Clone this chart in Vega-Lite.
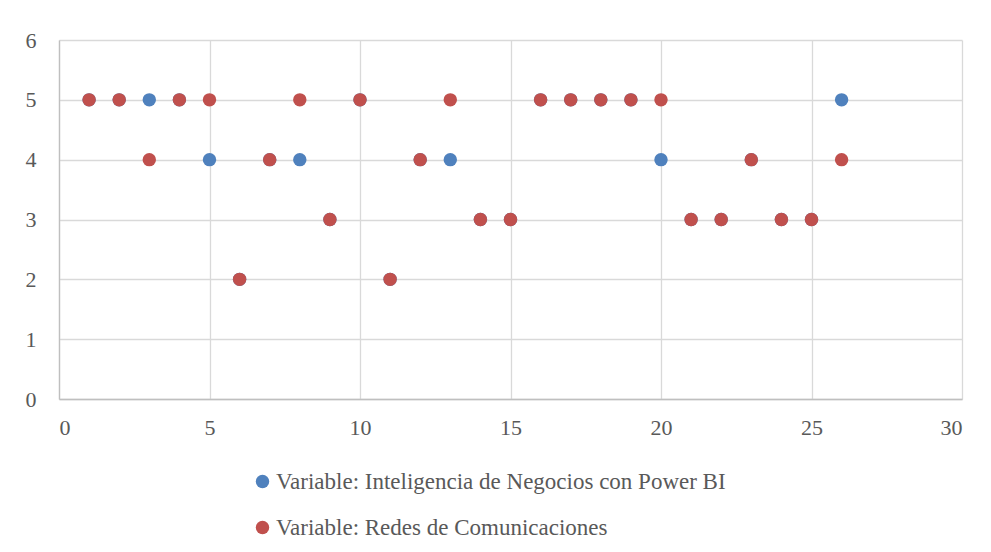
{
  "$schema": "https://vega.github.io/schema/vega-lite/v6.json",
  "width": 903,
  "height": 359,
  "autosize": "none",
  "padding": {"left": 59, "top": 40, "right": 29, "bottom": 153},
  "background": "white",
  "config": {
    "view": {"stroke": null},
    "font": "Liberation Serif"
  },
  "data": {
    "values": [
      {"x": 1, "y": 5, "serie": "Variable: Inteligencia de Negocios con Power BI"},
      {"x": 2, "y": 5, "serie": "Variable: Inteligencia de Negocios con Power BI"},
      {"x": 3, "y": 5, "serie": "Variable: Inteligencia de Negocios con Power BI"},
      {"x": 4, "y": 5, "serie": "Variable: Inteligencia de Negocios con Power BI"},
      {"x": 5, "y": 4, "serie": "Variable: Inteligencia de Negocios con Power BI"},
      {"x": 6, "y": 2, "serie": "Variable: Inteligencia de Negocios con Power BI"},
      {"x": 7, "y": 4, "serie": "Variable: Inteligencia de Negocios con Power BI"},
      {"x": 8, "y": 4, "serie": "Variable: Inteligencia de Negocios con Power BI"},
      {"x": 9, "y": 3, "serie": "Variable: Inteligencia de Negocios con Power BI"},
      {"x": 10, "y": 5, "serie": "Variable: Inteligencia de Negocios con Power BI"},
      {"x": 11, "y": 2, "serie": "Variable: Inteligencia de Negocios con Power BI"},
      {"x": 12, "y": 4, "serie": "Variable: Inteligencia de Negocios con Power BI"},
      {"x": 13, "y": 4, "serie": "Variable: Inteligencia de Negocios con Power BI"},
      {"x": 14, "y": 3, "serie": "Variable: Inteligencia de Negocios con Power BI"},
      {"x": 15, "y": 3, "serie": "Variable: Inteligencia de Negocios con Power BI"},
      {"x": 16, "y": 5, "serie": "Variable: Inteligencia de Negocios con Power BI"},
      {"x": 17, "y": 5, "serie": "Variable: Inteligencia de Negocios con Power BI"},
      {"x": 18, "y": 5, "serie": "Variable: Inteligencia de Negocios con Power BI"},
      {"x": 19, "y": 5, "serie": "Variable: Inteligencia de Negocios con Power BI"},
      {"x": 20, "y": 4, "serie": "Variable: Inteligencia de Negocios con Power BI"},
      {"x": 21, "y": 3, "serie": "Variable: Inteligencia de Negocios con Power BI"},
      {"x": 22, "y": 3, "serie": "Variable: Inteligencia de Negocios con Power BI"},
      {"x": 23, "y": 4, "serie": "Variable: Inteligencia de Negocios con Power BI"},
      {"x": 24, "y": 3, "serie": "Variable: Inteligencia de Negocios con Power BI"},
      {"x": 25, "y": 3, "serie": "Variable: Inteligencia de Negocios con Power BI"},
      {"x": 26, "y": 5, "serie": "Variable: Inteligencia de Negocios con Power BI"},
      {"x": 1, "y": 5, "serie": "Variable: Redes de Comunicaciones"},
      {"x": 2, "y": 5, "serie": "Variable: Redes de Comunicaciones"},
      {"x": 3, "y": 4, "serie": "Variable: Redes de Comunicaciones"},
      {"x": 4, "y": 5, "serie": "Variable: Redes de Comunicaciones"},
      {"x": 5, "y": 5, "serie": "Variable: Redes de Comunicaciones"},
      {"x": 6, "y": 2, "serie": "Variable: Redes de Comunicaciones"},
      {"x": 7, "y": 4, "serie": "Variable: Redes de Comunicaciones"},
      {"x": 8, "y": 5, "serie": "Variable: Redes de Comunicaciones"},
      {"x": 9, "y": 3, "serie": "Variable: Redes de Comunicaciones"},
      {"x": 10, "y": 5, "serie": "Variable: Redes de Comunicaciones"},
      {"x": 11, "y": 2, "serie": "Variable: Redes de Comunicaciones"},
      {"x": 12, "y": 4, "serie": "Variable: Redes de Comunicaciones"},
      {"x": 13, "y": 5, "serie": "Variable: Redes de Comunicaciones"},
      {"x": 14, "y": 3, "serie": "Variable: Redes de Comunicaciones"},
      {"x": 15, "y": 3, "serie": "Variable: Redes de Comunicaciones"},
      {"x": 16, "y": 5, "serie": "Variable: Redes de Comunicaciones"},
      {"x": 17, "y": 5, "serie": "Variable: Redes de Comunicaciones"},
      {"x": 18, "y": 5, "serie": "Variable: Redes de Comunicaciones"},
      {"x": 19, "y": 5, "serie": "Variable: Redes de Comunicaciones"},
      {"x": 20, "y": 5, "serie": "Variable: Redes de Comunicaciones"},
      {"x": 21, "y": 3, "serie": "Variable: Redes de Comunicaciones"},
      {"x": 22, "y": 3, "serie": "Variable: Redes de Comunicaciones"},
      {"x": 23, "y": 4, "serie": "Variable: Redes de Comunicaciones"},
      {"x": 24, "y": 3, "serie": "Variable: Redes de Comunicaciones"},
      {"x": 25, "y": 3, "serie": "Variable: Redes de Comunicaciones"},
      {"x": 26, "y": 4, "serie": "Variable: Redes de Comunicaciones"}
    ]
  },
  "mark": {"type": "point", "filled": true, "opacity": 1, "size": 180, "shape": "circle"},
  "encoding": {
    "x": {
      "field": "x", "type": "quantitative",
      "scale": {"domain": [0, 30], "nice": false, "zero": false},
      "axis": {
        "title": null, "values": [0, 5, 10, 15, 20, 25, 30],
        "grid": true, "gridColor": "#d9d9d9", "gridWidth": 1.3,
        "domainColor": "#bfbfbf", "domainWidth": 1.3,
        "ticks": false, "labelPadding": 18,
        "labelFontSize": 22, "labelColor": "#595959", "labelFont": "Liberation Serif"
      }
    },
    "y": {
      "field": "y", "type": "quantitative",
      "scale": {"domain": [0, 6], "nice": false},
      "axis": {
        "title": null, "values": [0, 1, 2, 3, 4, 5, 6],
        "grid": true, "gridColor": "#d9d9d9", "gridWidth": 1.3,
        "domainColor": "#bfbfbf", "domainWidth": 1.3,
        "ticks": false, "labelPadding": 23,
        "labelFontSize": 22, "labelColor": "#595959", "labelFont": "Liberation Serif"
      }
    },
    "color": {
      "field": "serie", "type": "nominal",
      "scale": {
        "domain": ["Variable: Inteligencia de Negocios con Power BI", "Variable: Redes de Comunicaciones"],
        "range": ["#4f81bd", "#c0504d"]
      },
      "legend": {
        "title": null, "orient": "none", "legendX": 192, "legendY": 430,
        "direction": "vertical", "symbolType": "circle", "symbolSize": 180,
        "symbolOpacity": 1, "symbolStrokeWidth": 0,
        "labelFontSize": 23, "labelColor": "#595959", "labelFont": "Liberation Serif",
        "labelOffset": 2, "rowPadding": 22, "labelLimit": 600
      }
    }
  }
}
